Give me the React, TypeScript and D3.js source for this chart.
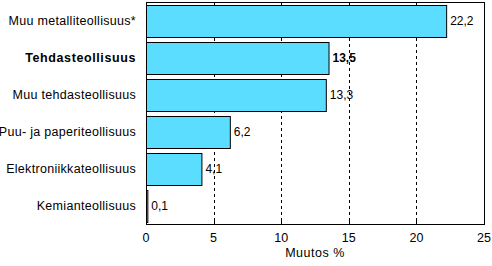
import React from "react";
import * as d3 from "d3";

const categories = [
  "Muu metalliteollisuus*",
  "Tehdasteollisuus",
  "Muu tehdasteollisuus",
  "Puu- ja paperiteollisuus",
  "Elektroniikkateollisuus",
  "Kemianteollisuus",
];
const values = [22.2, 13.5, 13.3, 6.2, 4.1, 0.1];
const boldCategory = "Tehdasteollisuus";
const xTicks = [0, 5, 10, 15, 20, 25];
const gridTicks = [5, 10, 15, 20];
const axisTitle = "Muutos %";

const W = 492;
const H = 266;
const left = 146;
const right = 484;
const top = 2;
const bottom = 224;

export default function App() {
  const x = d3.scaleLinear().domain([0, 25]).range([left, right]);
  const y = d3
    .scaleBand<string>()
    .domain(categories)
    .range([top, bottom])
    .paddingInner(0.14)
    .paddingOuter(0.07);
  const fmt = (v: number) => v.toFixed(1).replace(".", ",");
  const font = "'Liberation Sans', Arial, sans-serif";
  return (
    <svg
      width={W}
      height={H}
      style={{ position: "absolute", left: 0, top: 0, background: "#fff" }}
      fontFamily={font}
    >
      <rect x={left} y={top} width={right - left} height={bottom - top} fill="#fff" />
      {gridTicks.map((t) => (
        <line
          key={t}
          x1={Math.round(x(t)) + 0.5}
          x2={Math.round(x(t)) + 0.5}
          y1={top}
          y2={bottom}
          stroke="#000"
          strokeDasharray="3,3"
        />
      ))}
      {categories.map((c, i) => {
        const by = y(c)!;
        const bh = y.bandwidth();
        const bold = c === boldCategory;
        return (
          <g key={c}>
            <rect
              x={x(0) + 0.5}
              y={Math.round(by) + 0.5}
              width={Math.max(x(values[i]) - x(0), 1)}
              height={Math.round(bh)}
              fill="#5BDDFF"
              stroke="#000"
              strokeWidth={1}
            />
            <text
              x={136}
              y={by + bh / 2}
              dy="0.35em"
              textAnchor="end"
              fontSize={12.5}
              letterSpacing={bold ? 0.6 : 0.3}
              fontWeight={bold ? "bold" : "normal"}
              fill="#000"
            >
              {c}
            </text>
            <text
              x={x(values[i]) + 4}
              y={by + bh / 2}
              dy="0.35em"
              fontSize={12}
              fontWeight={bold ? "bold" : "normal"}
              fill="#000"
            >
              {fmt(values[i])}
            </text>
          </g>
        );
      })}
      <rect
        x={left + 0.5}
        y={top + 0.5}
        width={right - left}
        height={bottom - top}
        fill="none"
        stroke="#000"
      />
      {xTicks.map((t) => (
        <g key={t}>
          <line
            x1={Math.round(x(t)) + 0.5}
            x2={Math.round(x(t)) + 0.5}
            y1={bottom}
            y2={bottom - 4}
            stroke="#000"
          />
          <text x={x(t)} y={238} dy="0.35em" textAnchor="middle" fontSize={12.5} fill="#000">
            {t}
          </text>
        </g>
      ))}
      <text
        x={(left + right) / 2}
        y={253}
        dy="0.35em"
        textAnchor="middle"
        fontSize={12.5}
        letterSpacing={0.5}
        fill="#000"
      >
        {axisTitle}
      </text>
    </svg>
  );
}
